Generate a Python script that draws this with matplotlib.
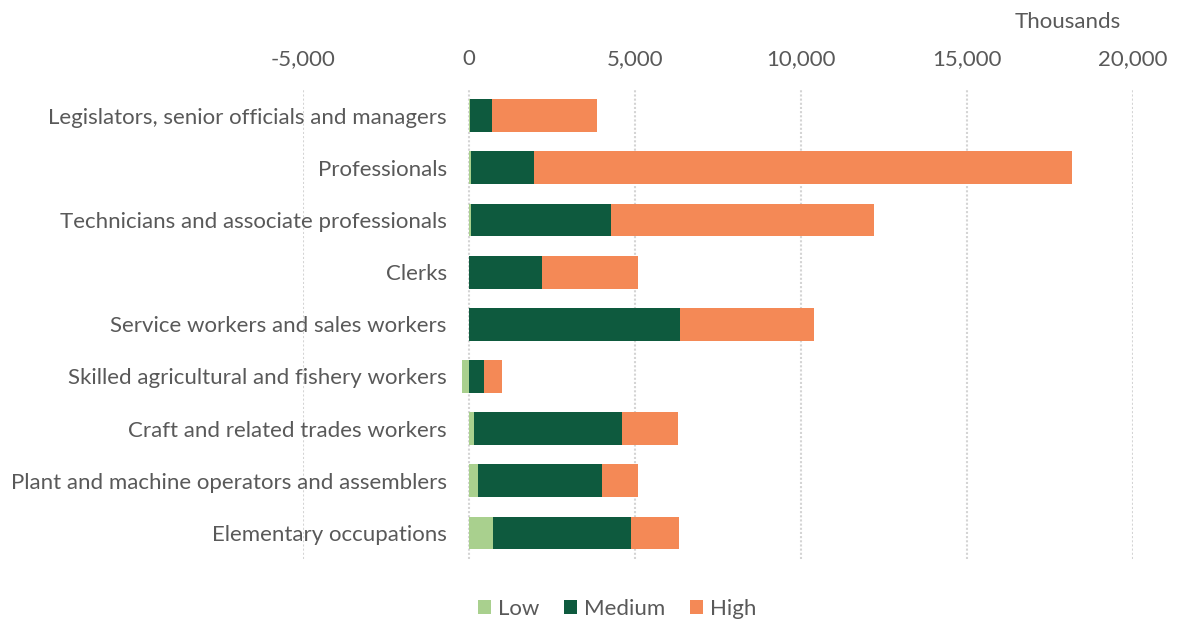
import matplotlib
matplotlib.use("Agg")
import matplotlib.pyplot as plt
from matplotlib.patches import Patch
import numpy as np

# Employment by occupation and skill level (thousands)
occupations = [
    "Legislators, senior officials and managers",
    "Professionals",
    "Technicians and associate professionals",
    "Clerks",
    "Service workers and sales workers",
    "Skilled agricultural and fishery workers",
    "Craft and related trades workers",
    "Plant and machine operators and assemblers",
    "Elementary occupations",
]
low = [20, 60, 60, 10, 10, -200, 140, 260, 710]
medium = [680, 1890, 4230, 2200, 6340, 440, 4480, 3745, 4180]
high = [3150, 16200, 7920, 2890, 4050, 545, 1680, 1075, 1450]

series_names = ["Low", "Medium", "High"]
colors = ["#a9d08e", "#0e5a3e", "#f48956"]
text_color = "#595959"
fs = 16

plt.rcParams["font.family"] = ["Lato", "DejaVu Sans"]

fig = plt.figure(figsize=(11.78, 6.21), dpi=100)
ax = fig.add_axes([0.2572, 0.0998, 0.7046, 0.756])

y = np.arange(len(occupations))
low_a = np.array(low, dtype=float)
med_a = np.array(medium, dtype=float)
high_a = np.array(high, dtype=float)

# Positive values stack from zero; negative values extend left of zero
pos_low = np.clip(low_a, 0, None)
neg_low = np.clip(low_a, None, 0)
bh = 0.63
ax.barh(y, pos_low, height=bh, color=colors[0], zorder=3)
ax.barh(y, neg_low, height=bh, color=colors[0], zorder=3)
ax.barh(y, med_a, left=pos_low, height=bh, color=colors[1], zorder=3)
ax.barh(y, high_a, left=pos_low + med_a, height=bh, color=colors[2], zorder=3)

ax.set_xlim(-5000, 20000)
ax.set_ylim(len(occupations) - 0.5, -0.5)

ticks = np.arange(-5000, 20001, 5000)
ax.set_xticks(ticks)
ax.set_xticklabels([f"{t:,}" for t in ticks])
ax.xaxis.tick_top()
ax.tick_params(axis="x", length=0, pad=15, labelsize=fs, labelcolor=text_color)

ax.set_yticks(y)
ax.set_yticklabels(occupations)
ax.spines["left"].set_position(("data", 0))
ax.tick_params(axis="y", length=0, pad=16, labelsize=fs, labelcolor=text_color)

for s in ax.spines.values():
    s.set_visible(False)

ax.grid(axis="x", color="#d4d4d4", linewidth=1.5, linestyle=(0, (1, 1)), zorder=0)
ax.grid(axis="y", visible=False)

fig.text(1068 / 1178, 1 - 22 / 621, "Thousands", ha="center", va="center",
         fontsize=fs, color=text_color)

handles = [Patch(facecolor=c, label=n) for c, n in zip(colors, series_names)]
fig.legend(handles=handles, loc="center", bbox_to_anchor=(617 / 1178, 1 - 609 / 621),
           ncol=3, frameon=False, fontsize=fs, labelcolor=text_color,
           handlelength=0.6, handleheight=0.6, handletextpad=0.3, columnspacing=1.1)

fig.savefig("out.png", dpi=100, facecolor="white")
